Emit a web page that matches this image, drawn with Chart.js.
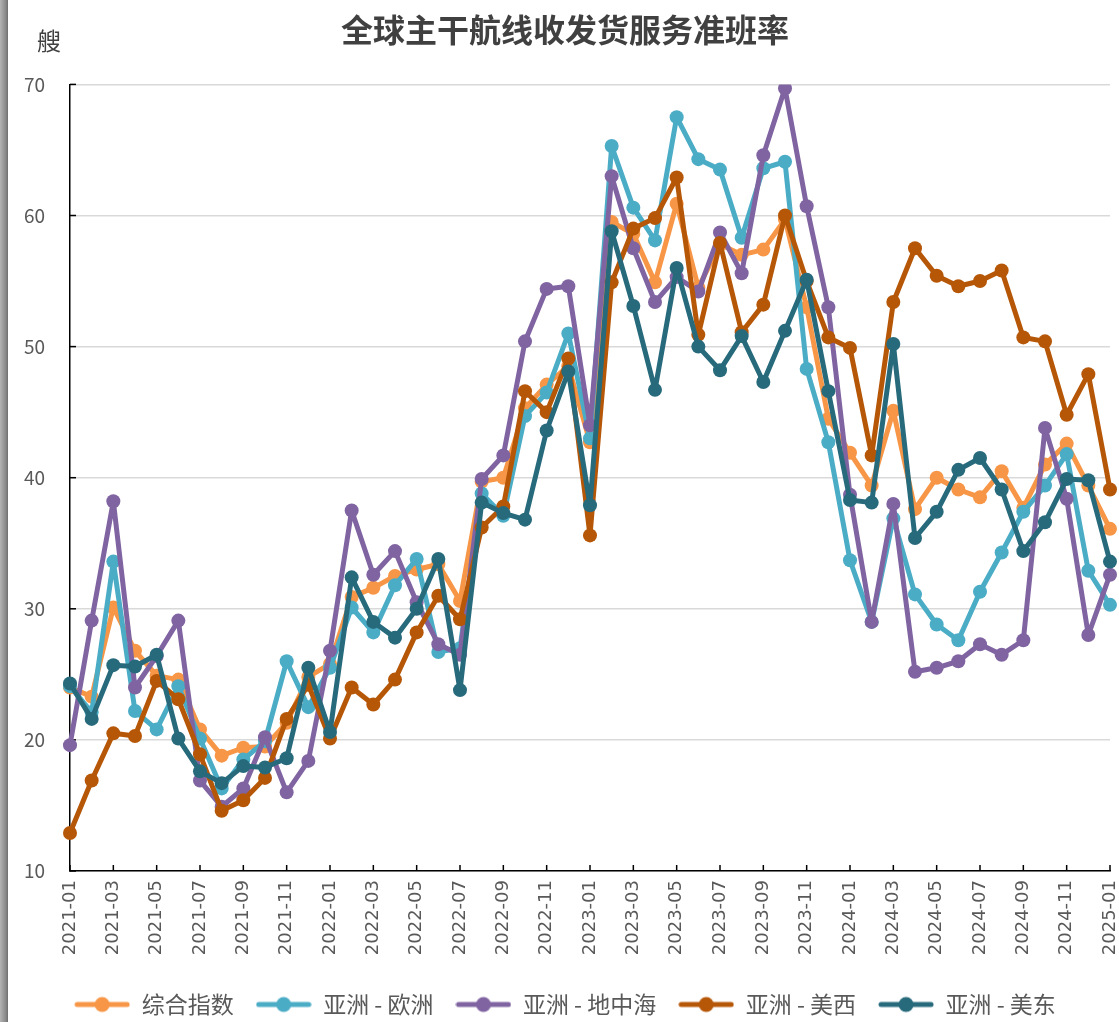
<!DOCTYPE html>
<html>
<head>
<meta charset="utf-8">
<script src="https://cdn.jsdelivr.net/npm/chart.js@4.4.1/dist/chart.umd.min.js"></script>
<style>
  body { margin: 0; background: #fff; }
  #wrap { position: relative; width: 1119px; height: 1022px; }
  #edge { position: absolute; left: 0; top: 0; width: 8px; height: 1022px;
          background: linear-gradient(to right, #b4b4b4, #8a8a8a 70%, #6e6e6e); z-index: 2; }
</style>
</head>
<body>
<div id="wrap">
  <div id="edge"></div>
  <canvas id="chart"></canvas>
</div>
<script>
// 月份 (2021-01 ~ 2025-01)
const months = [];
for (let y = 2021; y <= 2025; y++) {
  for (let m = 1; m <= 12; m++) {
    if (y === 2025 && m > 1) break;
    months.push(y + '-' + String(m).padStart(2, '0'));
  }
}

const seriesNames = ['综合指数', '亚洲 - 欧洲', '亚洲 - 地中海', '亚洲 - 美西', '亚洲 - 美东'];
const seriesColors = ['#F79646', '#4BACC6', '#8064A2', '#B65708', '#276A7C'];

const composite = [24.0, 23.3, 30.1, 26.8, 24.9, 24.6, 20.8, 18.8, 19.4, 19.5, 21.3, 24.8,
  25.8, 30.9, 31.6, 32.5, 33.0, 33.4, 30.6, 39.7, 40.0, 45.3, 47.1, 48.5,
  42.7, 59.5, 58.6, 54.9, 60.9, 54.5, 57.8, 57.0, 57.4, 59.7, 53.0, 44.5,
  41.9, 39.4, 45.1, 37.6, 40.0, 39.1, 38.5, 40.5, 37.7, 41.0, 42.6, 39.4,
  36.1];
const asiaEurope = [24.1, 22.1, 33.6, 22.2, 20.8, 24.1, 20.1, 16.3, 18.5, 19.9, 26.0, 22.5,
  25.5, 30.1, 28.2, 31.8, 33.8, 26.7, 27.0, 38.8, 37.1, 44.7, 46.5, 51.0,
  43.0, 65.3, 60.6, 58.1, 67.5, 64.3, 63.5, 58.3, 63.6, 64.1, 48.3, 42.7,
  33.7, 29.0, 36.9, 31.1, 28.8, 27.6, 31.3, 34.3, 37.4, 39.4, 41.8, 32.9,
  30.3];
const asiaMed = [19.6, 29.1, 38.2, 24.0, 26.4, 29.1, 16.9, 14.9, 16.3, 20.2, 16.0, 18.4,
  26.8, 37.5, 32.6, 34.4, 30.5, 27.3, 26.5, 39.9, 41.7, 50.4, 54.4, 54.6,
  44.0, 63.0, 57.5, 53.4, 55.3, 54.2, 58.7, 55.6, 64.6, 69.7, 60.7, 53.0,
  38.7, 29.0, 38.0, 25.2, 25.5, 26.0, 27.3, 26.5, 27.6, 43.8, 38.4, 28.0,
  32.6];
const asiaUSWest = [12.9, 16.9, 20.5, 20.3, 24.5, 23.1, 18.9, 14.6, 15.4, 17.1, 21.6, 24.2,
  20.1, 24.0, 22.7, 24.6, 28.2, 31.0, 29.2, 36.2, 37.8, 46.6, 45.0, 49.1,
  35.6, 54.9, 59.0, 59.8, 62.9, 50.9, 57.9, 51.1, 53.2, 60.0, 55.0, 50.7,
  49.9, 41.7, 53.4, 57.5, 55.4, 54.6, 55.0, 55.8, 50.7, 50.4, 44.8, 47.9,
  39.1];
const asiaUSEast = [24.3, 21.6, 25.7, 25.6, 26.5, 20.1, 17.6, 16.7, 18.0, 17.9, 18.6, 25.5,
  20.6, 32.4, 29.0, 27.8, 30.0, 33.8, 23.8, 38.1, 37.3, 36.8, 43.6, 48.1,
  37.9, 58.8, 53.1, 46.7, 56.0, 50.0, 48.2, 50.8, 47.3, 51.2, 55.1, 46.6,
  38.3, 38.1, 50.2, 35.4, 37.4, 40.6, 41.5, 39.1, 34.4, 36.6, 39.9, 39.8,
  33.6];

const allSeries = [composite, asiaEurope, asiaMed, asiaUSWest, asiaUSEast];

const FONT = '"Noto Sans CJK SC", "Noto Sans", sans-serif';

// 图例用的 "线+圆点" 标记
function makeMarker(color) {
  const c = document.createElement('canvas');
  c.width = 56; c.height = 18;
  const g = c.getContext('2d');
  g.strokeStyle = color;
  g.lineWidth = 5;
  g.lineCap = 'round';
  g.beginPath(); g.moveTo(3, 9); g.lineTo(53, 9); g.stroke();
  g.fillStyle = color;
  g.beginPath(); g.arc(28, 9, 7.5, 0, Math.PI * 2); g.fill();
  return c;
}
const markers = seriesColors.map(makeMarker);

const datasets = allSeries.map((data, i) => ({
  label: seriesNames[i],
  data,
  borderColor: seriesColors[i],
  backgroundColor: seriesColors[i],
  borderWidth: 5,
  borderJoinStyle: 'round',
  borderCapStyle: 'round',
  pointRadius: 7,
  pointHoverRadius: 7,
  pointBorderWidth: 0,
  tension: 0,
  order: allSeries.length - i
}));

// 内侧刻度线 + 单位 "艘"
const extras = {
  id: 'extras',
  beforeDatasetsDraw(chart) {
    const { ctx, chartArea, scales } = chart;
    ctx.save();
    ctx.strokeStyle = '#000';
    ctx.lineWidth = 1.5;
    scales.y.ticks.forEach(t => {
      const y = scales.y.getPixelForValue(t.value);
      ctx.beginPath(); ctx.moveTo(chartArea.left, y); ctx.lineTo(chartArea.left + 6, y); ctx.stroke();
    });
    months.forEach((m, i) => {
      if (i % 2 !== 0) return;
      const x = scales.x.getPixelForValue(i);
      ctx.beginPath(); ctx.moveTo(x, chartArea.bottom); ctx.lineTo(x, chartArea.bottom - 6); ctx.stroke();
    });
    ctx.restore();
  },
  afterDraw(chart) {
    const { ctx, chartArea } = chart;
    ctx.save();
    ctx.fillStyle = '#404040';
    ctx.font = '24px ' + FONT;
    ctx.textAlign = 'center';
    ctx.textBaseline = 'middle';
    ctx.fillText('艘', chartArea.left - 21, chartArea.top - 44);
    ctx.restore();
  }
};

new Chart(document.getElementById('chart'), {
  type: 'line',
  data: { labels: months, datasets },
  plugins: [extras],
  options: {
    responsive: true,
    maintainAspectRatio: false,
    animation: false,
    layout: { padding: { top: 7, right: 9, bottom: -4, left: 20 } },
    plugins: {
      title: {
        display: true,
        text: '全球主干航线收发货服务准班率',
        color: '#404040',
        font: { family: FONT, size: 32, weight: 'bold' },
        padding: { top: 4, bottom: 35 }
      },
      legend: {
        position: 'bottom',
        labels: {
          usePointStyle: true,
          pointStyleWidth: 56,
          color: '#595959',
          font: { family: FONT, size: 23 },
          padding: 22,
          sort: (a, b) => a.datasetIndex - b.datasetIndex,
          generateLabels(chart) {
            const items = Chart.defaults.plugins.legend.labels.generateLabels(chart);
            items.forEach(it => { it.pointStyle = markers[it.datasetIndex]; });
            return items;
          }
        }
      },
      tooltip: { enabled: false }
    },
    scales: {
      x: {
        offset: false,
        grid: { color: 'transparent', drawTicks: false },
        border: { color: '#000', width: 1.5 },
        ticks: {
          autoSkip: false,
          minRotation: 90,
          maxRotation: 90,
          padding: 9,
          color: '#595959',
          font: { family: '"DejaVu Sans", sans-serif', size: 18 },
          callback: (v, i) => (i % 2 === 0 ? months[i] : '')
        },
        afterFit: s => { s.height = 100; s.paddingRight = 0; s.paddingLeft = 0; }
      },
      y: {
        min: 10,
        max: 70,
        grid: { color: '#D9D9D9', lineWidth: 1.5, drawTicks: false },
        border: { color: '#000', width: 1.5 },
        ticks: {
          stepSize: 10,
          padding: 25,
          color: '#595959',
          font: { family: FONT, size: 19 }
        },
        afterFit: s => { s.width = 50; }
      }
    }
  }
});
</script>
</body>
</html>
